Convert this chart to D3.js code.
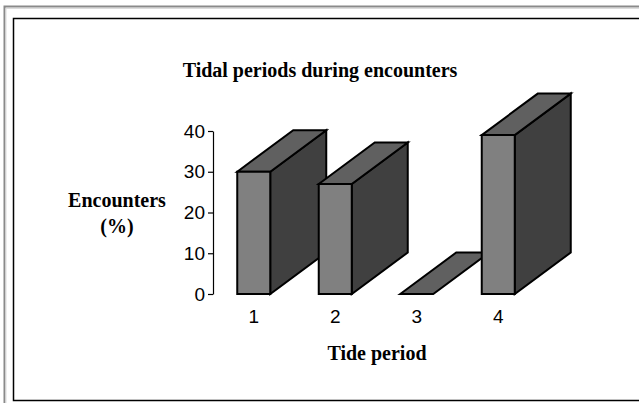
<!DOCTYPE html>
<html>
<head>
<meta charset="utf-8">
<script src="https://cdn.jsdelivr.net/npm/d3@7"></script>
<style>
  html, body { margin: 0; padding: 0; background: #fff; }
  svg { display: block; }
</style>
</head>
<body>
<svg id="chart" width="639" height="403"></svg>
<script>
// Share of encounters by tide period
const categories = ["1", "2", "3", "4"];
const encounters = [30, 27, 0, 39];
const yTicks = [0, 10, 20, 30, 40];

const svg = d3.select("#chart");

// page frames
svg.append("path")
  .attr("d", "M4.5,403 V6.5 H639")
  .attr("fill", "none").attr("stroke", "#8a8a8a").attr("stroke-width", 2);
svg.append("path")
  .attr("d", "M6,403 V8.5 H639")
  .attr("fill", "none").attr("stroke", "#dcdcdc").attr("stroke-width", 1);
svg.append("rect")
  .attr("x", 13.5).attr("y", 18.5).attr("width", 640).attr("height", 382)
  .attr("fill", "#fff").attr("stroke", "#000").attr("stroke-width", 1.5);

const axisX = 213;
const y = d3.scaleLinear().domain([0, 40]).range([294, 131]);
const x = d3.scaleBand().domain(categories).range([axisX, 539])
  .paddingInner(0.595).paddingOuter(0.2975);

// 3-D extrusion offset
const dx = 56, dy = -41.5;

const serif = "'Liberation Serif', 'Times New Roman', serif";
const sans = "'Liberation Sans', Arial, sans-serif";

// y axis
const yAxis = svg.append("g")
  .attr("transform", `translate(${axisX},0)`)
  .call(d3.axisLeft(y).tickValues(yTicks).tickSize(5).tickSizeOuter(0).tickPadding(3));
yAxis.select(".domain").attr("stroke", "#000").attr("stroke-width", 1.2);
yAxis.selectAll(".tick line").attr("stroke", "#000").attr("stroke-width", 1.2);
yAxis.selectAll(".tick text").attr("font-family", sans).attr("font-size", 19).attr("fill", "#000");

// bars
const bars = svg.append("g").selectAll("g").data(categories.map((c, i) => ({c, v: encounters[i]})))
  .join("g");

const poly = pts => "M" + pts.map(p => p.join(",")).join("L") + "Z";

bars.each(function(d) {
  const g = d3.select(this);
  const x0 = x(d.c), x1 = x(d.c) + x.bandwidth();
  const yb = y(0), yt = y(d.v);
  const common = sel => sel.attr("stroke", "#000").attr("stroke-width", 2).attr("stroke-linejoin", "miter");
  if (d.v > 0) {
    g.append("path").attr("d", poly([[x1, yt], [x1 + dx, yt + dy], [x1 + dx, yb + dy], [x1, yb]]))
      .attr("fill", "#404040").call(common);
  }
  g.append("path").attr("d", poly([[x0, yt], [x0 + dx, yt + dy], [x1 + dx, yt + dy], [x1, yt]]))
    .attr("fill", "#606060").call(common);
  if (d.v > 0) {
    g.append("path").attr("d", poly([[x0, yt], [x1, yt], [x1, yb], [x0, yb]]))
      .attr("fill", "#808080").call(common);
  }
});

// category labels
const xAxis = svg.append("g")
  .attr("transform", `translate(0,${y(0)})`)
  .call(d3.axisBottom(x).tickSize(0).tickPadding(15.5));
xAxis.select(".domain").remove();
xAxis.selectAll(".tick text").attr("font-family", sans).attr("font-size", 19).attr("fill", "#000");

// titles
const bold = sel => sel.attr("font-family", serif).attr("font-weight", "bold")
  .attr("font-size", 20).attr("text-anchor", "middle").attr("fill", "#000");
svg.append("text").attr("x", 320).attr("y", 77).call(bold)
  .text("Tidal periods during encounters");
svg.append("text").attr("x", 117).attr("y", 207).call(bold)
  .text("Encounters");
svg.append("text").attr("x", 117).attr("y", 233).call(bold)
  .text("(%)");
svg.append("text").attr("x", 377).attr("y", 360).call(bold)
  .text("Tide period");
</script>
</body>
</html>
